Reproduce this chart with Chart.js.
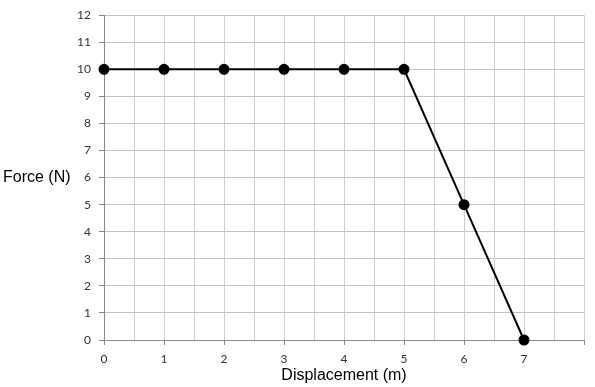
<!DOCTYPE html>
<html>
<head>
<meta charset="utf-8">
<script src="https://cdn.jsdelivr.net/npm/chart.js@4/dist/chart.umd.min.js"></script>
<style>
  html, body { margin: 0; padding: 0; background: #fff; }
  #wrap { width: 595px; height: 387px; position: relative; }
</style>
</head>
<body>
<div id="wrap"><canvas id="c" width="595" height="387"></canvas></div>
<script>
const displacement = [0, 1, 2, 3, 4, 5, 6, 7];
const force = [10, 10, 10, 10, 10, 10, 5, 0];
const xTitle = 'Displacement (m)';
const yTitle = 'Force (N)';

const titles = {
  id: 'titles',
  afterDraw(chart) {
    const ctx = chart.ctx;
    const a = chart.chartArea;
    ctx.save();
    ctx.fillStyle = '#000';
    ctx.font = '16px "Liberation Sans", Arial, sans-serif';
    ctx.textBaseline = 'middle';
    ctx.textAlign = 'left';
    ctx.fillText(yTitle, 3, (a.top + a.bottom) / 2);
    ctx.textAlign = 'center';
    ctx.fillText(xTitle, (a.left + a.right) / 2, 376);
    ctx.restore();
  }
};

const tickCol = c => Number.isInteger(c.tick.value) ? '#888' : 'transparent';

new Chart(document.getElementById('c'), {
  type: 'scatter',
  data: {
    datasets: [{
      data: displacement.map((x, i) => ({ x: x, y: force[i] })),
      showLine: true,
      borderColor: '#000',
      borderWidth: 2,
      backgroundColor: '#000',
      pointBackgroundColor: '#000',
      pointBorderColor: '#000',
      pointRadius: 4.5,
      clip: false
    }]
  },
  options: {
    responsive: false,
    animation: false,
    layout: { padding: { top: 14, right: 11, left: 0, bottom: 0 } },
    plugins: { legend: { display: false }, tooltip: { enabled: false } },
    scales: {
      x: {
        type: 'linear', min: 0, max: 8,
        afterFit: s => { s.height = 47; },
        ticks: {
          stepSize: 0.5, autoSkip: false, maxRotation: 0, padding: 7,
          color: '#333', font: { family: 'Lato, "Open Sans", sans-serif', size: 12 },
          callback: v => (Number.isInteger(v) && v < 8) ? String(v) : ''
        },
        grid: { color: '#d0d0d0', lineWidth: 1, tickLength: 5, tickColor: tickCol },
        border: { display: true, color: '#888', width: 1 }
      },
      y: {
        min: 0, max: 12,
        afterFit: s => { s.width = 104; },
        ticks: {
          stepSize: 1, autoSkip: false, padding: 8,
          color: '#333', font: { family: 'Lato, "Open Sans", sans-serif', size: 12 }
        },
        grid: { color: '#c4c4c4', lineWidth: 1, tickLength: 5, tickColor: '#888' },
        border: { display: true, color: '#888', width: 1 }
      }
    }
  },
  plugins: [titles]
});
</script>
</body>
</html>
